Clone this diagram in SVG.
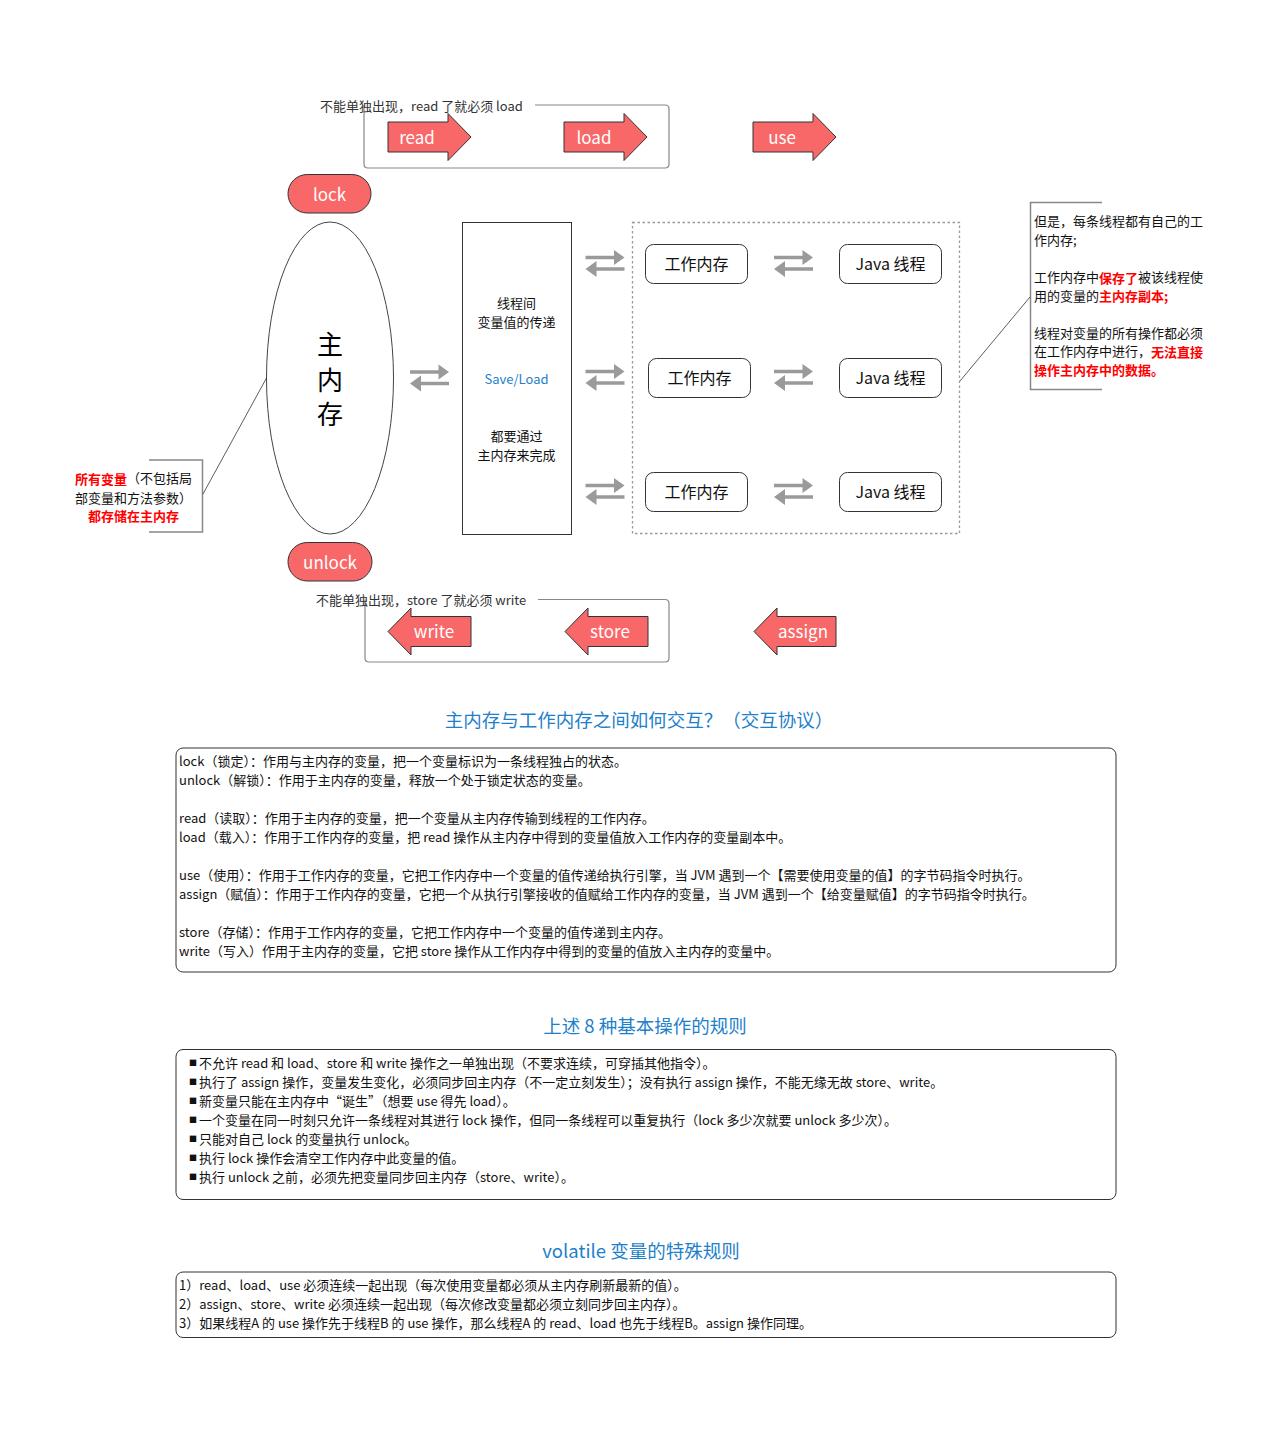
<svg xmlns="http://www.w3.org/2000/svg" width="1285" height="1436" viewBox="0 0 1285 1436">
<style>
text{font-family:"Noto Sans CJK SC","Noto Sans",sans-serif;dominant-baseline:central;}
.op{fill:#F86868;stroke:#333;stroke-width:1;}
.opt{fill:#fff;font-size:17px;text-anchor:middle;}
.note{fill:#333;font-size:13px;}
.grp{fill:none;stroke:#888;stroke-width:1.2;}
.node{fill:#fff;stroke:#333;stroke-width:1;}
.nt{font-size:16px;fill:#111;text-anchor:middle;}
.mid{font-size:13px;fill:#111;text-anchor:middle;}
.c{font-size:13px;fill:#111;}
.red{fill:#ff0000;font-weight:bold;}
.title{font-size:18.5px;fill:#1E7FCB;text-anchor:middle;}
.box{fill:#fff;stroke:#333;stroke-width:1;}
.bl{font-size:13px;fill:#111;}
.bul{font-size:8px;fill:#111;}
.brk{fill:none;stroke:#888;stroke-width:1.5;}
.lead{fill:none;stroke:#333;stroke-width:0.8;}
</style>
<defs>
<g id="swap">
<line x1="-19.5" y1="-6" x2="10" y2="-6" stroke="#9a9a9a" stroke-width="3.5"/>
<polygon points="19.5,-6 9,-13.5 9,1.5" fill="#9a9a9a"/>
<line x1="19.5" y1="5.5" x2="-9" y2="5.5" stroke="#9a9a9a" stroke-width="3.5"/>
<polygon points="-19.5,5.5 -8.5,-2.5 -8.5,13.5" fill="#9a9a9a"/>
</g>
</defs>

<!-- top group: read / load -->
<g id="group-read-load">
<path class="grp" d="M535 105 H665 Q669 105 669 109 V164 Q669 168 665 168 H368 Q364 168 364 164 V105"/>
<text class="note" x="320" y="105">不能单独出现，read 了就必须 load</text>
</g>
<g id="op-read">
<polygon class="op" points="388,122 448,122 448,113.5 471,137 448,160.5 448,152 388,152"/>
<text class="opt" x="417" y="136">read</text>
</g>
<g id="op-load">
<polygon class="op" points="564,122 624,122 624,113.5 647,137 624,160.5 624,152 564,152"/>
<text class="opt" x="594" y="136">load</text>
</g>
<g id="op-use">
<polygon class="op" points="753,122 813,122 813,113.5 836,137 813,160.5 813,152 753,152"/>
<text class="opt" x="782" y="136">use</text>
</g>

<g id="op-lock">
<rect class="op" x="288" y="174.5" width="83" height="38.5" rx="19.25"/>
<text class="opt" x="329.5" y="193">lock</text>
</g>

<g id="main-memory">
<ellipse cx="330" cy="378" rx="63.5" ry="156" fill="#fff" stroke="#444" stroke-width="1"/>
<text x="330" y="342" font-size="26" fill="#000" text-anchor="middle">主</text>
<text x="330" y="378" font-size="26" fill="#000" text-anchor="middle">内</text>
<text x="330" y="412" font-size="26" fill="#000" text-anchor="middle">存</text>
</g>

<g id="transfer">
<rect x="462.5" y="222.5" width="109" height="312" fill="#fff" stroke="#333" stroke-width="1"/>
<text class="mid" x="516.5" y="302">线程间</text>
<text class="mid" x="516.5" y="321">变量值的传递</text>
<text class="mid" x="516.5" y="378" style="fill:#1E7FCB">Save/Load</text>
<text class="mid" x="516.5" y="435">都要通过</text>
<text class="mid" x="516.5" y="454">主内存来完成</text>
</g>

<g id="threads-container">
<rect x="632.5" y="222.5" width="327" height="311" fill="none" stroke="#999" stroke-width="1.3" stroke-dasharray="2.5,2.5"/>
</g>

<g id="wm1"><rect class="node" x="645.5" y="244.5" width="102" height="39" rx="8"/><text class="nt" x="696.5" y="263">工作内存</text></g>
<g id="wm2"><rect class="node" x="648.5" y="358.5" width="102" height="39" rx="8"/><text class="nt" x="699.5" y="377">工作内存</text></g>
<g id="wm3"><rect class="node" x="645.5" y="472.5" width="102" height="39" rx="8"/><text class="nt" x="696.5" y="491">工作内存</text></g>
<g id="jt1"><rect class="node" x="839.5" y="244.5" width="102" height="39" rx="8"/><text class="nt" x="890.5" y="263">Java 线程</text></g>
<g id="jt2"><rect class="node" x="839.5" y="358.5" width="102" height="39" rx="8"/><text class="nt" x="890.5" y="377">Java 线程</text></g>
<g id="jt3"><rect class="node" x="839.5" y="472.5" width="102" height="39" rx="8"/><text class="nt" x="890.5" y="491">Java 线程</text></g>

<g id="op-unlock">
<rect class="op" x="288" y="542.5" width="84" height="38.5" rx="19.25"/>
<text class="opt" x="330" y="561">unlock</text>
</g>

<g id="group-store-write">
<path class="grp" d="M538 599.5 H665 Q669 599.5 669 603.5 V658 Q669 662 665 662 H369 Q365 662 365 658 V599.5"/>
<text class="note" x="316" y="599.5">不能单独出现，store 了就必须 write</text>
</g>
<g id="op-write">
<polygon class="op" points="388,631.5 411,608 411,616.5 471,616.5 471,646.5 411,646.5 411,655"/>
<text class="opt" x="434" y="630.5">write</text>
</g>
<g id="op-store">
<polygon class="op" points="565,631.5 588,608 588,616.5 648,616.5 648,646.5 588,646.5 588,655"/>
<text class="opt" x="610" y="630.5">store</text>
</g>
<g id="op-assign">
<polygon class="op" points="754,631.5 777,608 777,616.5 836,616.5 836,646.5 777,646.5 777,655"/>
<text class="opt" x="803" y="630.5">assign</text>
</g>

<g id="note-right">
<path class="brk" d="M1102 202.5 H1030.5 V389.5 H1102"/>
<text class="c" x="1034" y="220.5">但是，每条线程都有自己的工</text>
<text class="c" x="1034" y="239">作内存;</text>
<text class="c" x="1034" y="276.5">工作内存中<tspan class="red">保存了</tspan>被该线程使</text>
<text class="c" x="1034" y="295">用的变量的<tspan class="red">主内存副本;</tspan></text>
<text class="c" x="1034" y="332">线程对变量的所有操作都必须</text>
<text class="c" x="1034" y="350.5">在工作内存中进行，<tspan class="red">无法直接</tspan></text>
<text class="c" x="1034" y="369"><tspan class="red">操作主内存中的数据。</tspan></text>
</g>

<g id="note-left">
<path class="brk" d="M149 460 H202.5 V532 H149"/>
<text class="c" x="75" y="477.5"><tspan class="red">所有变量</tspan>（不包括局</text>
<text class="c" x="75" y="497">部变量和方法参数）</text>
<text class="c red" x="133.5" y="515.5" text-anchor="middle">都存储在主内存</text>
</g>

<g id="connectors">
<use href="#swap" x="429.5" y="378"/>
<use href="#swap" x="605" y="263.5"/>
<use href="#swap" x="605" y="377.5"/>
<use href="#swap" x="605" y="491.5"/>
<use href="#swap" x="793.5" y="263.5"/>
<use href="#swap" x="793.5" y="377.5"/>
<use href="#swap" x="793.5" y="491.5"/>
<line class="lead" x1="1030" y1="297" x2="960" y2="381"/>
<line class="lead" x1="203" y1="494" x2="266.5" y2="378"/>
</g>

<g id="section-ops">
<text class="title" x="639" y="719">主内存与工作内存之间如何交互？（交互协议）</text>
<rect class="box" x="176" y="748" width="940" height="224" rx="7"/>
<text class="bl" x="179" y="760.5">lock（锁定）：作用与主内存的变量，把一个变量标识为一条线程独占的状态。</text>
<text class="bl" x="179" y="779">unlock（解锁）：作用于主内存的变量，释放一个处于锁定状态的变量。</text>
<text class="bl" x="179" y="817">read（读取）：作用于主内存的变量，把一个变量从主内存传输到线程的工作内存。</text>
<text class="bl" x="179" y="836">load（载入）：作用于工作内存的变量，把 read 操作从主内存中得到的变量值放入工作内存的变量副本中。</text>
<text class="bl" x="179" y="874">use（使用）：作用于工作内存的变量，它把工作内存中一个变量的值传递给执行引擎，当 JVM 遇到一个【需要使用变量的值】的字节码指令时执行。</text>
<text class="bl" x="179" y="893">assign（赋值）：作用于工作内存的变量，它把一个从执行引擎接收的值赋给工作内存的变量，当 JVM 遇到一个【给变量赋值】的字节码指令时执行。</text>
<text class="bl" x="179" y="931">store（存储）：作用于工作内存的变量，它把工作内存中一个变量的值传递到主内存。</text>
<text class="bl" x="179" y="950">write（写入）作用于主内存的变量，它把 store 操作从工作内存中得到的变量的值放入主内存的变量中。</text>
</g>

<g id="section-rules">
<text class="title" x="645" y="1025">上述 8 种基本操作的规则</text>
<rect class="box" x="176" y="1049.5" width="940" height="150" rx="7"/>
<text class="bul" x="189" y="1062">■</text><text class="bl" x="199" y="1062.5">不允许 read 和 load、store 和 write 操作之一单独出现（不要求连续，可穿插其他指令）。</text>
<text class="bul" x="189" y="1081">■</text><text class="bl" x="199" y="1081">执行了 assign 操作，变量发生变化，必须同步回主内存（不一定立刻发生）；没有执行 assign 操作，不能无缘无故 store、write。</text>
<text class="bul" x="189" y="1100">■</text><text class="bl" x="199" y="1100">新变量只能在主内存中“诞生”（想要 use 得先 load）。</text>
<text class="bul" x="189" y="1119">■</text><text class="bl" x="199" y="1119">一个变量在同一时刻只允许一条线程对其进行 lock 操作，但同一条线程可以重复执行（lock 多少次就要 unlock 多少次）。</text>
<text class="bul" x="189" y="1138">■</text><text class="bl" x="199" y="1138">只能对自己 lock 的变量执行 unlock。</text>
<text class="bul" x="189" y="1157">■</text><text class="bl" x="199" y="1157">执行 lock 操作会清空工作内存中此变量的值。</text>
<text class="bul" x="189" y="1176">■</text><text class="bl" x="199" y="1176">执行 unlock 之前，必须先把变量同步回主内存（store、write）。</text>
</g>

<g id="section-volatile">
<text class="title" x="641" y="1250">volatile 变量的特殊规则</text>
<rect class="box" x="176" y="1272" width="940" height="65.5" rx="7"/>
<text class="bl" x="179" y="1284.5">1）read、load、use 必须连续一起出现（每次使用变量都必须从主内存刷新最新的值）。</text>
<text class="bl" x="179" y="1303.5">2）assign、store、write 必须连续一起出现（每次修改变量都必须立刻同步回主内存）。</text>
<text class="bl" x="179" y="1322.5">3）如果线程A 的 use 操作先于线程B 的 use 操作，那么线程A 的 read、load 也先于线程B。assign 操作同理。</text>
</g>
</svg>
